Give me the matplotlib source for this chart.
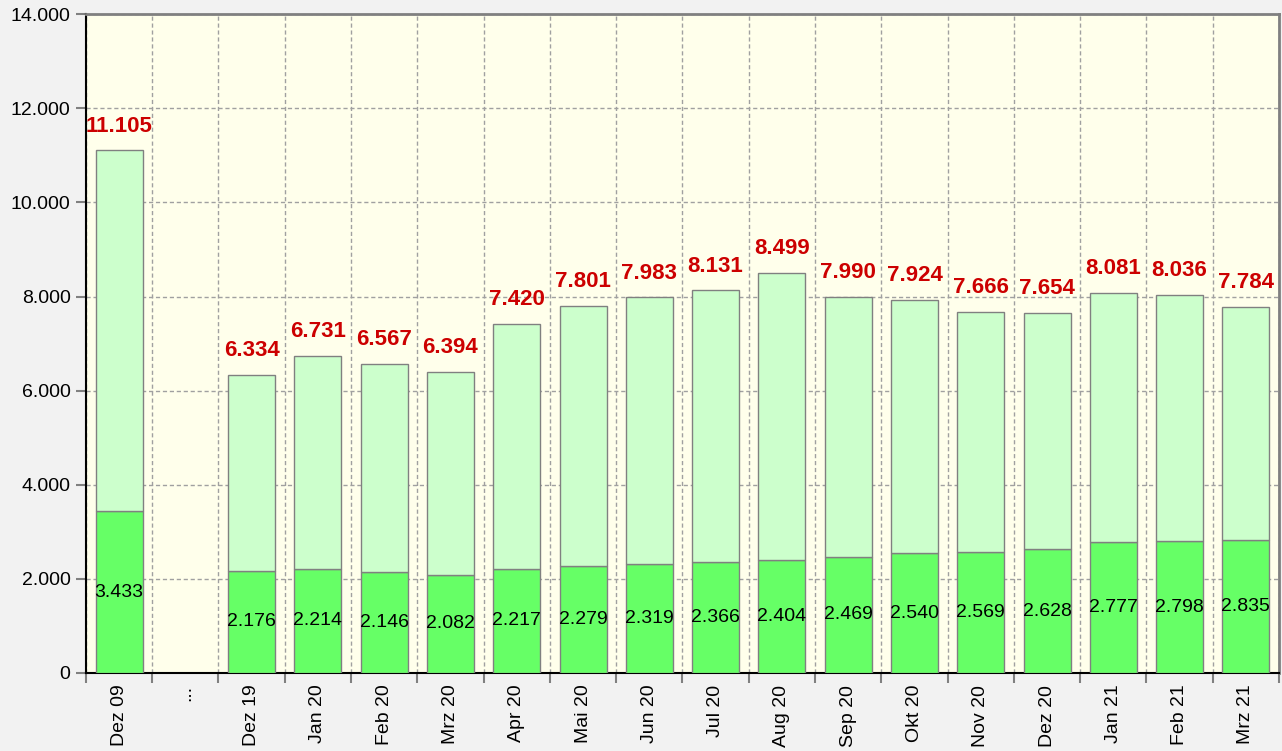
import matplotlib
matplotlib.use('agg')
import matplotlib.pyplot as plt
import numpy as np

plt.rcParams['font.family'] = ['Liberation Sans', 'DejaVu Sans']

# data
labels = ["Dez 09", "...", "Dez 19", "Jan 20", "Feb 20", "Mrz 20", "Apr 20", "Mai 20",
          "Jun 20", "Jul 20", "Aug 20", "Sep 20", "Okt 20", "Nov 20", "Dez 20",
          "Jan 21", "Feb 21", "Mrz 21"]
total = [11105, np.nan, 6334, 6731, 6567, 6394, 7420, 7801, 7983, 8131, 8499,
         7990, 7924, 7666, 7654, 8081, 8036, 7784]
base = [3433, np.nan, 2176, 2214, 2146, 2082, 2217, 2279, 2319, 2366, 2404,
        2469, 2540, 2569, 2628, 2777, 2798, 2835]


def fmt(v):
    return "{:,}".format(int(v)).replace(",", ".")


total = np.array(total, dtype=float)
base = np.array(base, dtype=float)
rest = total - base
x = np.arange(len(labels))

fig = plt.figure(figsize=(12.82, 7.51), dpi=100, facecolor="#f2f2f2")
ax = fig.add_axes([0.067, 0.104, 0.9307, 0.877])
ax.set_facecolor("#ffffeb")

w = 0.71
ax.bar(x, base, w, color="#66ff66", edgecolor="#808080", linewidth=1, zorder=3)
ax.bar(x, rest, w, bottom=base, color="#ccffcc", edgecolor="#808080", linewidth=1, zorder=3)

for i in range(len(x)):
    if np.isnan(total[i]):
        continue
    ax.text(x[i], base[i] / 2, fmt(base[i]), ha="center", va="center",
            fontsize=14, color="black", zorder=4)
    ax.annotate(fmt(total[i]), (x[i], total[i]), xytext=(0, 17.5),
                textcoords="offset points", ha="center", va="center",
                fontsize=16, fontweight="bold", color="#cc0000", zorder=4)

ax.set_xlim(-0.5, len(labels) - 0.5)
ax.set_ylim(0, 14000)
ax.set_yticks(np.arange(0, 14001, 2000))
ax.set_yticklabels([fmt(v) for v in np.arange(0, 14001, 2000)], fontsize=14)
ax.set_xticks(x)
ax.set_xticklabels(labels, rotation=90, fontsize=14)
ax.set_xticks(np.arange(-0.5, len(labels), 1), minor=True)
ax.tick_params(axis="x", which="major", length=0, pad=8.5)
ax.tick_params(axis="x", which="minor", length=7, color="#808080", width=1.5)
ax.tick_params(axis="y", length=7, color="#808080", width=1.5, pad=4)

ax.grid(True, axis="y", which="major", color="#a0a0a0", linestyle=(0, (3, 2)), linewidth=1, zorder=1)
ax.grid(True, axis="x", which="minor", color="#a0a0a0", linestyle=(0, (3, 2)), linewidth=1, zorder=1)

for s in ["left", "bottom"]:
    ax.spines[s].set_color("black")
    ax.spines[s].set_linewidth(1.5)
for s in ["top", "right"]:
    ax.spines[s].set_color("#808080")
    ax.spines[s].set_linewidth(2)

plt.savefig("out.png", dpi=100, facecolor=fig.get_facecolor())
